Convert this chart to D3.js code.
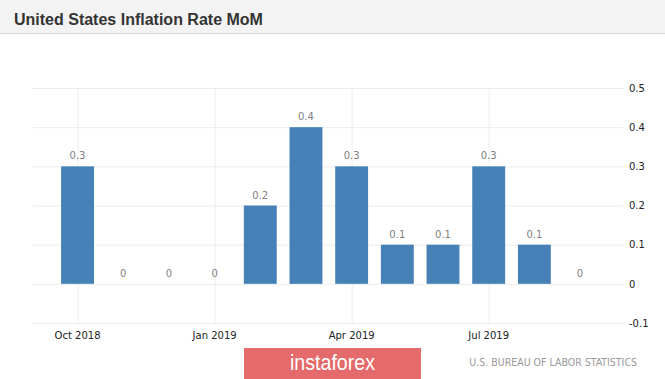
<!DOCTYPE html>
<html>
<head>
<meta charset="utf-8">
<script src="https://cdn.jsdelivr.net/npm/d3@7"></script>
<style>
  body { margin: 0; background: #fff; }
  svg { display: block; }
</style>
</head>
<body>
<div id="chart"></div>
<script>
// data
const months = ["Oct 2018", "Nov 2018", "Dec 2018", "Jan 2019", "Feb 2019", "Mar 2019",
                "Apr 2019", "May 2019", "Jun 2019", "Jul 2019", "Aug 2019", "Sep 2019"];
const values = [0.3, 0, 0, 0, 0.2, 0.4, 0.3, 0.1, 0.1, 0.3, 0.1, 0];
const xTickLabels = ["Oct 2018", "Jan 2019", "Apr 2019", "Jul 2019"];
const yTicks = [-0.1, 0, 0.1, 0.2, 0.3, 0.4, 0.5];

const W = 665, H = 379;
const fmt = d => d3.format("~g")(+(+d).toFixed(1)).replace("\u2212", "-");

const svg = d3.select("#chart").append("svg")
  .attr("width", W)
  .attr("height", H);

// header band
svg.append("rect").attr("x", 0).attr("y", 0).attr("width", W).attr("height", 33).attr("fill", "#f3f3f3");
svg.append("line").attr("x1", 0).attr("x2", W).attr("y1", 33.5).attr("y2", 33.5)
  .attr("stroke", "#d6d6d6");
svg.append("text")
  .attr("x", 14).attr("y", 25)
  .attr("font-family", "Liberation Sans, Arial, sans-serif")
  .attr("font-weight", "bold")
  .attr("font-size", 16)
  .attr("fill", "#333")
  .text("United States Inflation Rate MoM");

// scales
const x = d3.scaleBand()
  .domain(months)
  .range([54.7, 602.9])
  .paddingInner(0.28)
  .paddingOuter(0.14);

const y = d3.scaleLinear()
  .domain([-0.1, 0.5])
  .range([323, 88]);

const gridLeft = 33, gridRight = 623;

// horizontal grid + right axis labels
const yAxis = svg.append("g")
  .attr("transform", `translate(${gridRight},0)`)
  .call(d3.axisRight(y).tickValues(yTicks).tickSize(-(gridRight - gridLeft)).tickPadding(6)
    .tickFormat(fmt));
yAxis.select(".domain").remove();
yAxis.selectAll(".tick line").attr("stroke", "#ececec");
yAxis.selectAll(".tick text")
  .attr("font-family", "DejaVu Sans, sans-serif")
  .attr("font-size", 10)
  .attr("fill", "#222")
  .attr("dy", "0.32em");

// vertical grid at labelled months
svg.append("g").selectAll("line")
  .data(xTickLabels)
  .join("line")
  .attr("x1", d => x(d) + x.bandwidth() / 2 + 0.5)
  .attr("x2", d => x(d) + x.bandwidth() / 2 + 0.5)
  .attr("y1", 88).attr("y2", 323)
  .attr("stroke", "#ececec");

// bottom axis labels
const xAxis = svg.append("g")
  .attr("transform", "translate(0,323)")
  .call(d3.axisBottom(x).tickValues(xTickLabels).tickSize(0).tickPadding(9));
xAxis.select(".domain").remove();
xAxis.selectAll(".tick text")
  .attr("font-family", "DejaVu Sans, sans-serif")
  .attr("font-size", 10)
  .attr("fill", "#222");

// bars
svg.append("g").selectAll("rect")
  .data(values)
  .join("rect")
  .attr("x", (d, i) => x(months[i]))
  .attr("width", x.bandwidth())
  .attr("y", d => y(Math.max(0, d)))
  .attr("height", d => Math.abs(y(d) - y(0)))
  .attr("fill", "#4580b7");

// value labels
svg.append("g").selectAll("text")
  .data(values)
  .join("text")
  .attr("x", (d, i) => x(months[i]) + x.bandwidth() / 2)
  .attr("y", d => y(Math.max(0, d)) - 7)
  .attr("text-anchor", "middle")
  .attr("font-family", "DejaVu Sans, sans-serif")
  .attr("font-size", 10)
  .attr("fill", "#808080")
  .text(fmt);

// watermark and source
svg.append("rect")
  .attr("x", 244).attr("y", 348).attr("width", 177).attr("height", 31)
  .attr("fill", "#e46a6b");
svg.append("text")
  .attr("x", 290).attr("y", 370)
  .attr("textLength", 85)
  .attr("lengthAdjust", "spacingAndGlyphs")
  .attr("font-family", "Liberation Sans, sans-serif")
  .attr("font-size", 22)
  .attr("fill", "#fff")
  .text("instaforex");
svg.append("text")
  .attr("x", 637).attr("y", 366)
  .attr("text-anchor", "end")
  .attr("font-family", "DejaVu Sans Condensed, DejaVu Sans, sans-serif")
  .attr("font-size", 10.5)
  .attr("fill", "#9a9a9a")
  .text("U.S. BUREAU OF LABOR STATISTICS");
</script>
</body>
</html>
